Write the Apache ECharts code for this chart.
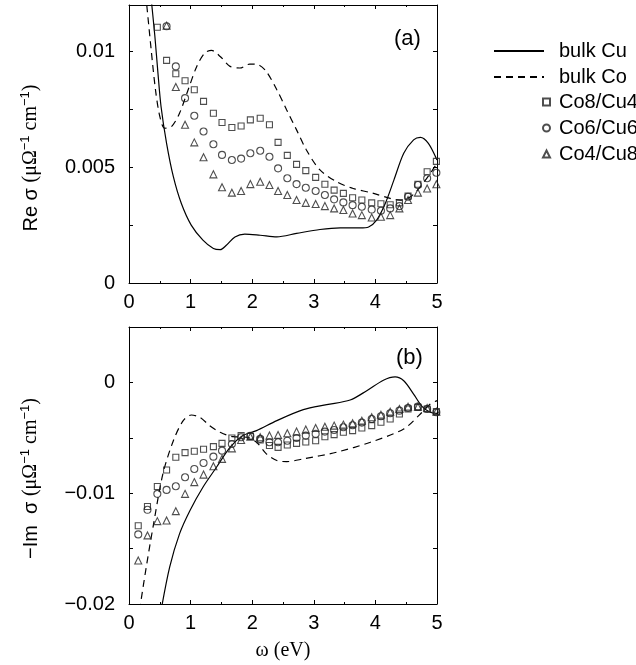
<!DOCTYPE html>
<html>
<head>
<meta charset="utf-8">
<script src="https://cdn.jsdelivr.net/npm/echarts@6/dist/echarts.min.js"></script>
<style>
  html, body { margin: 0; padding: 0; background: #fff; }
  #main { width: 636px; height: 665px; }
</style>
</head>
<body>
<div id="main"></div>
<script>
// photon energy of the computed points (eV)
const omega = [0.15, 0.30, 0.46, 0.61, 0.76, 0.91, 1.06, 1.21, 1.37, 1.51, 1.67, 1.82, 1.97, 2.13, 2.28, 2.42, 2.57,
  2.72, 2.87, 3.03, 3.18, 3.33, 3.48, 3.63, 3.78, 3.94, 4.09, 4.24, 4.39, 4.53, 4.69, 4.84, 4.99];

// panel (a): Re sigma, null = above the plotted range
const co8cu4Re = [null, null, 0.01104, 0.00961, 0.00903, 0.00873, 0.00834, 0.00784, 0.00733, 0.00693, 0.00671, 0.00678,
  0.00704, 0.00711, 0.00683, 0.00607, 0.00551, 0.00512, 0.00485, 0.00456, 0.00426, 0.00401, 0.00387, 0.00368, 0.00358,
  0.00346, 0.00342, 0.00338, 0.00346, 0.00375, 0.00426, 0.0048, 0.00525];
const co6cu6Re = [null, null, null, 0.01108, 0.00935, 0.00798, 0.00722, 0.00654, 0.00599, 0.00553, 0.00531, 0.00537,
  0.0056, 0.00571, 0.00545, 0.00495, 0.00452, 0.00427, 0.00411, 0.00397, 0.0038, 0.00361, 0.00348, 0.00336, 0.00329,
  0.00317, 0.00312, 0.00322, 0.00332, 0.00372, 0.00423, 0.00452, 0.00476];
const co4cu8Re = [null, null, null, 0.01111, 0.00846, 0.00683, 0.00607, 0.00543, 0.00469, 0.00413, 0.0039, 0.00397,
  0.00427, 0.00437, 0.00423, 0.00397, 0.0038, 0.00358, 0.00346, 0.00341, 0.00332, 0.00322, 0.00315, 0.003, 0.00293,
  0.00283, 0.00286, 0.00293, 0.00322, 0.00358, 0.0039, 0.00408, 0.00426];

// panel (b): -Im sigma
const co8cu4Im = [-0.01294, -0.0112, -0.0094, -0.0079, -0.00676, -0.00634, -0.00622, -0.00604, -0.0058, -0.0055, -0.00502,
  -0.0048, -0.00487, -0.0052, -0.0057, -0.00586, -0.00565, -0.0055, -0.00538, -0.00526, -0.0049, -0.00471, -0.0045,
  -0.00435, -0.00411, -0.0039, -0.0036, -0.0033, -0.00285, -0.0024, -0.00225, -0.0024, -0.00264];
const co6cu6Im = [-0.01372, -0.0115, -0.01006, -0.0097, -0.00937, -0.00856, -0.00781, -0.00727, -0.0067, -0.00616, -0.00556,
  -0.00495, -0.00483, -0.0051, -0.0054, -0.0054, -0.00526, -0.00502, -0.0048, -0.00465, -0.00444, -0.00429, -0.00405,
  -0.00387, -0.00363, -0.0033, -0.00306, -0.00279, -0.00255, -0.00231, -0.00219, -0.0024, -0.0027];
const co4cu8Im = [-0.01607, -0.01381, -0.01252, -0.01246, -0.01162, -0.01006, -0.009, -0.00832, -0.00757, -0.0069, -0.00595,
  -0.0052, -0.0049, -0.00495, -0.0048, -0.00474, -0.00459, -0.00444, -0.00426, -0.00411, -0.004, -0.0039, -0.00381,
  -0.00369, -0.00345, -0.00315, -0.00291, -0.00264, -0.0024, -0.00219, -0.00219, -0.00231, -0.00264];

// bulk curves
const cuReX = [0.34, 0.42, 0.47, 0.52, 0.61, 0.72, 0.85, 1.01, 1.2, 1.37, 1.48, 1.58, 1.72, 1.88, 2.13, 2.4, 2.72, 3.1,
  3.43, 3.75, 3.89, 4.02, 4.16, 4.3, 4.46, 4.62, 4.73, 4.86, 5.0];
const cuReY = [0.0128, 0.01065, 0.00906, 0.00762, 0.00603, 0.00459, 0.00343, 0.0025, 0.00185, 0.00149, 0.00144, 0.00163,
  0.00199, 0.00211, 0.00206, 0.00199, 0.00214, 0.00231, 0.00238, 0.00238, 0.00242, 0.00271, 0.00343, 0.00444, 0.0056,
  0.00618, 0.00629, 0.00603, 0.00531];
const coReX = [0.27, 0.36, 0.43, 0.5, 0.58, 0.69, 0.82, 0.96, 1.1, 1.23, 1.34, 1.48, 1.64, 1.8, 1.96, 2.1, 2.23, 2.4,
  2.56, 2.72, 2.88, 3.1, 3.37, 3.64, 3.97, 4.24, 4.4, 4.57, 4.73, 4.89, 5.0];
const coReY = [0.0125, 0.01007, 0.00834, 0.00719, 0.00668, 0.00675, 0.00733, 0.00834, 0.00935, 0.00993, 0.01004, 0.00978,
  0.00935, 0.00928, 0.00945, 0.00942, 0.00913, 0.00834, 0.00747, 0.00661, 0.00574, 0.00488, 0.00437, 0.00408, 0.00387,
  0.00365, 0.00358, 0.00372, 0.00416, 0.00473, 0.00517];
const cuImX = [0.52, 0.66, 0.82, 0.99, 1.2, 1.42, 1.64, 1.85, 2.07, 2.4, 2.83, 3.21, 3.59, 3.86, 4.13, 4.32, 4.46, 4.62,
  4.76, 4.89, 5.0];
const cuImY = [-0.0206, -0.01667, -0.01367, -0.01156, -0.00946, -0.00766, -0.00586, -0.0048, -0.00435, -0.00345, -0.00246,
  -0.00201, -0.00159, -0.00075, 0.0002, 0.0005, 0.00015, -0.00105, -0.00219, -0.0027, -0.0028];
const coImX = [0.17, 0.28, 0.39, 0.55, 0.72, 0.88, 1.01, 1.15, 1.31, 1.48, 1.69, 1.91, 2.07, 2.23, 2.4, 2.56, 2.83, 3.37,
  3.92, 4.46, 4.73, 4.89, 5.0];
const coImY = [-0.0206, -0.01667, -0.01306, -0.00826, -0.00526, -0.00345, -0.00294, -0.00315, -0.0039, -0.0045, -0.0049,
  -0.00495, -0.0054, -0.00645, -0.00705, -0.00715, -0.0069, -0.0063, -0.0054, -0.0042, -0.00285, -0.00195, -0.00165];

const xTicks = [0, 1, 2, 3, 4, 5];
const reTicks = [0, 0.005, 0.01];
const imTicks = [-0.02, -0.01, 0];

const SANS = '"Liberation Sans", Arial, sans-serif';
const SERIF = '"Liberation Serif", "Times New Roman", serif';
const FS = 20;

function pairs(xs, ys) {
  const out = [];
  xs.forEach((x, i) => {
    if (ys[i] !== null) out.push([x, ys[i]]);
  });
  return out;
}

function tickFormatter(ticks) {
  return function (v) {
    const hit = ticks.find((t) => Math.abs(t - v) < 1e-9);
    if (hit === undefined) return '';
    return String(hit).replace('-', '\u2212');
  };
}

const chart = echarts.init(document.getElementById('main'));

const tickStyle = { inside: true, length: 4, lineStyle: { color: '#000', width: 1 } };
const lineStyleAxis = { onZero: false, lineStyle: { color: '#000', width: 1 } };

function xAxisPair(gridIndex, withName) {
  const base = {
    type: 'value',
    gridIndex,
    min: 0,
    max: 5,
    interval: 1,
    axisLine: lineStyleAxis,
    axisTick: tickStyle,
    minorTick: { show: true, splitNumber: 2, length: 2, lineStyle: { color: '#000' } },
    splitLine: { show: false },
  };
  return [
    Object.assign({}, base, {
      position: 'bottom',
      axisLabel: {
        margin: 9,
        color: '#000',
        fontFamily: SANS,
        fontSize: FS,
        formatter: (v) => (xTicks.indexOf(v) >= 0 ? String(v) : ''),
      },
      name: withName ? '\u03c9 (eV)' : '',
      nameLocation: 'middle',
      nameGap: 37,
      nameTextStyle: { color: '#000', fontFamily: SERIF, fontSize: FS },
    }),
    Object.assign({}, base, { position: 'top', axisLabel: { show: false } }),
  ];
}

function yAxisPair(gridIndex, min, max, interval, ticks, name, shift) {
  const base = {
    type: 'value',
    gridIndex,
    min,
    max,
    interval,
    axisLine: lineStyleAxis,
    axisTick: tickStyle,
    splitLine: { show: false },
  };
  return [
    Object.assign({}, base, {
      position: 'left',
      axisLabel: {
        margin: 14,
        color: '#000',
        fontFamily: SANS,
        fontSize: FS,
        showMaxLabel: false,
        formatter: tickFormatter(ticks),
      },
      name,
      nameLocation: 'middle',
      nameGap: 86,
      nameTextStyle: {
        color: '#000',
        padding: [0, shift, 0, 0],
        rich: {
          t: { fontFamily: SANS, fontSize: FS, color: '#000' },
          u: { fontFamily: SERIF, fontSize: FS, color: '#000' },
          s: { fontFamily: SANS, fontSize: 13, color: '#000', padding: [0, 0, 11, 0] },
        },
      },
    }),
    Object.assign({}, base, { position: 'right', axisLabel: { show: false } }),
  ];
}

const markColor = '#222';
function scatter(name, symbol, size, xs, ys, axis) {
  return {
    name,
    type: 'scatter',
    xAxisIndex: axis,
    yAxisIndex: axis,
    symbol,
    symbolSize: size,
    itemStyle: { color: 'rgba(255,255,255,0)', borderColor: markColor, borderWidth: 1.1 },
    data: pairs(xs, ys),
    z: 3,
  };
}
function curve(name, dashed, xs, ys, axis) {
  return {
    name,
    type: 'line',
    xAxisIndex: axis,
    yAxisIndex: axis,
    showSymbol: false,
    symbol: 'none',
    smooth: 0.3,
    clip: true,
    lineStyle: { color: '#000', width: 1.2, type: dashed ? [7, 5] : 'solid' },
    itemStyle: { color: '#000' },
    data: pairs(xs, ys),
    z: 2,
  };
}

const legendText = { fontFamily: SANS, fontSize: FS, lineHeight: 20, color: '#000' };

const option = {
  animation: false,
  backgroundColor: '#fff',
  title: [
    { text: '(a)', left: 389, top: 23, textStyle: { fontFamily: SANS, fontSize: 22, fontWeight: 'normal', color: '#000' } },
    { text: '(b)', left: 391, top: 342, textStyle: { fontFamily: SANS, fontSize: 22, fontWeight: 'normal', color: '#000' } },
  ],
  legend: [
    {
      data: ['bulk Cu', 'bulk Co'],
      orient: 'vertical',
      left: 488,
      top: 36,
      itemWidth: 50,
      itemHeight: 14,
      itemGap: 6,
      itemStyle: { opacity: 0 },
      textStyle: Object.assign({ padding: [0, 0, 0, 10] }, legendText),
    },
    {
      data: ['Co8/Cu4', 'Co6/Cu6', 'Co4/Cu8'],
      orient: 'vertical',
      left: 537,
      top: 87,
      itemWidth: 7,
      itemHeight: 7,
      itemGap: 6,
      textStyle: Object.assign({ padding: [0, 0, 0, 4] }, legendText),
    },
  ],
  grid: [
    { left: 129, top: 5, width: 308, height: 278 },
    { left: 129, top: 327, width: 308, height: 277 },
  ],
  xAxis: xAxisPair(0, false).concat(xAxisPair(1, true)),
  yAxis: yAxisPair(0, 0, 0.012, 0.0025, reTicks,
    '{t|Re \u03c3 }{u|(\u03bc\u03a9}{s|\u22121}{u| cm}{s|\u22121}{u|)}', 28)
    .concat(yAxisPair(1, -0.02, 0.005, 0.005, imTicks,
      '{t|\u2212Im  \u03c3 }{u|(\u03bc\u03a9}{s|\u22121}{u| cm}{s|\u22121}{u|)}', 26)),
  series: [
    curve('bulk Cu', false, cuReX, cuReY, 0),
    curve('bulk Co', true, coReX, coReY, 0),
    scatter('Co8/Cu4', 'rect', 6, omega, co8cu4Re, 0),
    scatter('Co6/Cu6', 'circle', 7, omega, co6cu6Re, 0),
    scatter('Co4/Cu8', 'triangle', 7, omega, co4cu8Re, 0),
    curve('bulk Cu', false, cuImX, cuImY, 2),
    curve('bulk Co', true, coImX, coImY, 2),
    scatter('Co8/Cu4', 'rect', 6, omega, co8cu4Im, 2),
    scatter('Co6/Cu6', 'circle', 7, omega, co6cu6Im, 2),
    scatter('Co4/Cu8', 'triangle', 7, omega, co4cu8Im, 2),
  ],
};

chart.setOption(option);
</script>
</body>
</html>
